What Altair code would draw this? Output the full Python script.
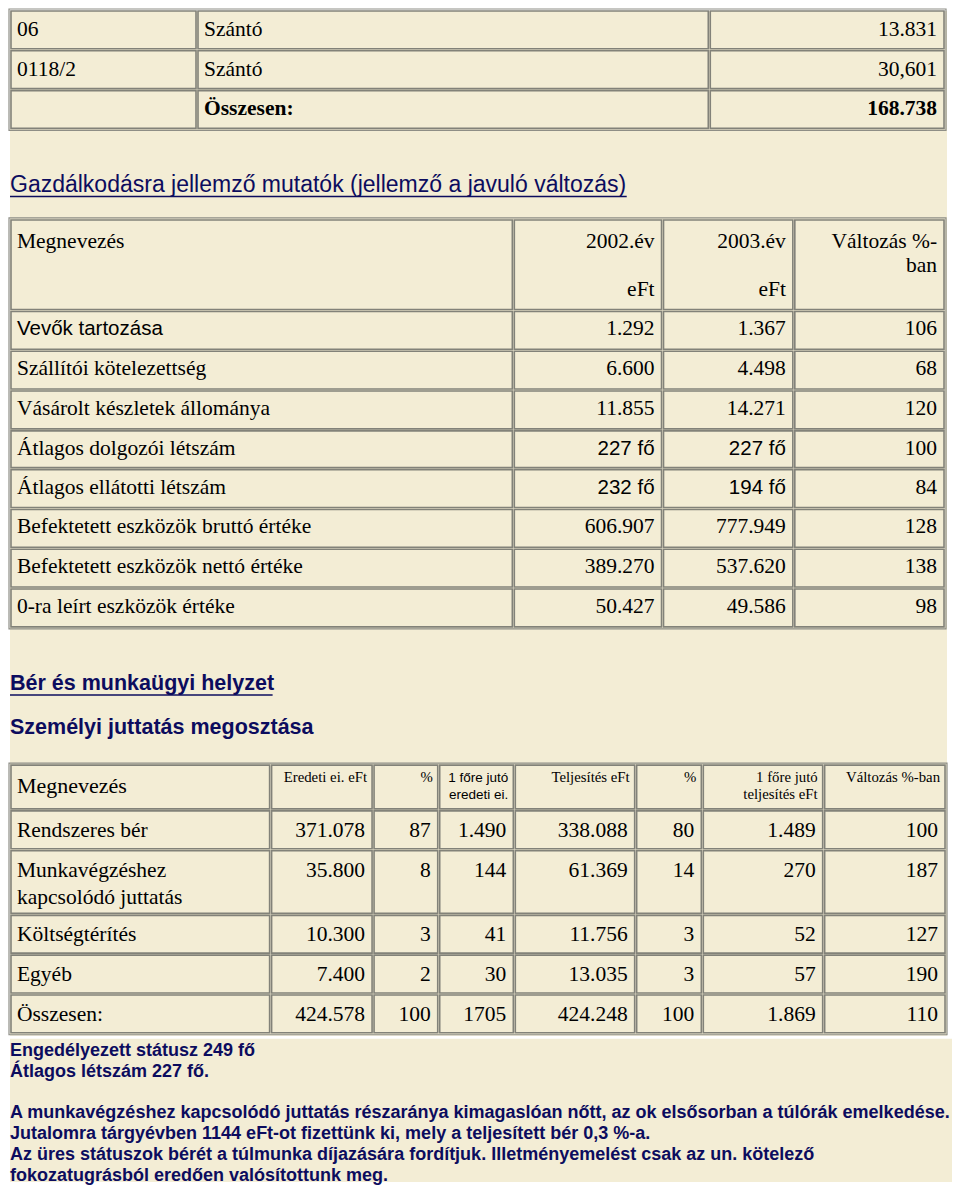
import altair as alt
import pandas as pd

# ---------------- data (text values) ----------------
t1_parcel = ["06", "0118/2", ""]
t1_type = ["Szántó", "Szántó", "Összesen:"]
t1_value = ["13.831", "30,601", "168.738"]

heading1 = "Gazdálkodásra jellemző mutatók (jellemző a javuló változás)"
t2_header_name = "Megnevezés"
t2_header_2002 = ["2002.év", "eFt"]
t2_header_2003 = ["2003.év", "eFt"]
t2_header_change = ["Változás %-", "ban"]
t2_names = ["Vevők tartozása", "Szállítói kötelezettség", "Vásárolt készletek állománya",
            "Átlagos dolgozói létszám", "Átlagos ellátotti létszám",
            "Befektetett eszközök bruttó értéke", "Befektetett eszközök nettó értéke",
            "0-ra leírt eszközök értéke"]
t2_2002 = ["1.292", "6.600", "11.855", "227 fő", "232 fő", "606.907", "389.270", "50.427"]
t2_2003 = ["1.367", "4.498", "14.271", "227 fő", "194 fő", "777.949", "537.620", "49.586"]
t2_change = ["106", "68", "120", "100", "84", "128", "138", "98"]

heading2 = "Bér és munkaügyi helyzet"
heading3 = "Személyi juttatás megosztása"
t3_header = ["Megnevezés", ["Eredeti ei. eFt"], ["%"], ["1 főre jutó", "eredeti ei."],
             ["Teljesítés eFt"], ["%"], ["1 főre jutó", "teljesítés eFt"], ["Változás %-ban"]]
t3_names = [["Rendszeres bér"], ["Munkavégzéshez", "kapcsolódó juttatás"], ["Költségtérítés"],
            ["Egyéb"], ["Összesen:"]]
t3_eredeti = ["371.078", "35.800", "10.300", "7.400", "424.578"]
t3_pct1 = ["87", "8", "3", "2", "100"]
t3_per1 = ["1.490", "144", "41", "30", "1705"]
t3_telj = ["338.088", "61.369", "11.756", "13.035", "424.248"]
t3_pct2 = ["80", "14", "3", "3", "100"]
t3_per2 = ["1.489", "270", "52", "57", "1.869"]
t3_change = ["100", "187", "127", "190", "110"]

notes = ["Engedélyezett státusz 249 fő",
         "Átlagos létszám 227 fő.",
         "",
         "A munkavégzéshez kapcsolódó juttatás részaránya kimagaslóan nőtt, az ok elsősorban a túlórák emelkedése.",
         "Jutalomra tárgyévben 1144 eFt-ot fizettünk ki, mely a teljesített bér 0,3 %-a.",
         "Az üres státuszok bérét a túlmunka díjazására fordítjuk. Illetményemelést csak az un. kötelező",
         "fokozatugrásból eredően valósítottunk meg."]

# ---------------- layout (page pixels) ----------------
T1_X = [8, 196, 711, 948]
T1_Y = [7, 47, 87, 127]
T2_X = [8, 514, 664, 796, 948]
T2_Y = [217, 309, 349, 389, 429, 468, 508, 548, 588, 628]
T3_X = [8, 270, 373, 439, 515, 637, 704, 826, 949]
T3_Y = [765, 811, 851, 916, 956, 996, 1036]

BEIGE = "#f3edd5"
NAVY = "#0c0c5e"
BORDER = "#828279"
SERIF = "Liberation Serif"
SANS = "Liberation Sans"
FS = 21.5

texts = []


def add(x, y, text, font=SERIF, weight="normal", align="left", size=FS, color="#000000"):
    if text:
        texts.append(dict(x=x, y=y, text=text, font=font, weight=weight,
                          align=align, size=size, color=color))


cells, frames = [], []


def table(X, Y):
    for r in range(len(Y) - 1):
        for c in range(len(X) - 1):
            cells.append(dict(x=X[c] + 1, x2=X[c + 1] - 1, y=Y[r] + 1, y2=Y[r + 1] - 1))
    frames.append(dict(x=X[0] - 1, x2=X[-1] + 1, y=Y[0] - 1, y2=Y[-1] + 1))


def lx(X, c):
    return X[c] + 7


def rx(X, c):
    return X[c + 1] - 8


def ly(Y, r, line=0, lh=25, off=20):
    return Y[r] + off + line * lh


# table 1
table(T1_X, T1_Y)
for r in range(3):
    w = "bold" if r == 2 else "normal"
    add(lx(T1_X, 0), ly(T1_Y, r), t1_parcel[r])
    add(lx(T1_X, 1), ly(T1_Y, r), t1_type[r], weight=w)
    add(rx(T1_X, 2), ly(T1_Y, r), t1_value[r], weight=w, align="right")

# heading 1
add(8, 183, heading1, font=SANS, size=23, color=NAVY)

# table 2
table(T2_X, T2_Y)
add(lx(T2_X, 0), T2_Y[0] + 23, t2_header_name)
add(rx(T2_X, 1), T2_Y[0] + 23, t2_header_2002[0], align="right")
add(rx(T2_X, 1), T2_Y[0] + 71, t2_header_2002[1], align="right")
add(rx(T2_X, 2), T2_Y[0] + 23, t2_header_2003[0], align="right")
add(rx(T2_X, 2), T2_Y[0] + 71, t2_header_2003[1], align="right")
add(rx(T2_X, 3), T2_Y[0] + 23, t2_header_change[0], align="right")
add(rx(T2_X, 3), T2_Y[0] + 47, t2_header_change[1], align="right")
for i in range(len(t2_names)):
    r = i + 1
    y = ly(T2_Y, r) - 1
    add(lx(T2_X, 0), y, t2_names[i], font=SANS if i == 0 else SERIF, size=20.5 if i == 0 else FS)
    sans = "fő" in t2_2002[i]
    add(rx(T2_X, 1), y, t2_2002[i], align="right", font=SANS if sans else SERIF, size=20.5 if sans else FS)
    sans = "fő" in t2_2003[i]
    add(rx(T2_X, 2), y, t2_2003[i], align="right", font=SANS if sans else SERIF, size=20.5 if sans else FS)
    add(rx(T2_X, 3), y, t2_change[i], align="right")

# headings 2, 3
add(8, 684, heading2, font=SANS, weight="bold", size=21.5, color=NAVY)
add(8, 729, heading3, font=SANS, weight="bold", size=21.5, color=NAVY)

# table 3
table(T3_X, T3_Y)
add(lx(T3_X, 0), T3_Y[0] + 22, t3_header[0], size=22)
for c in range(1, 8):
    lines = t3_header[c]
    sans = c == 3
    for k, line in enumerate(lines):
        add(rx(T3_X, c) + 2, T3_Y[0] + 14 + k * 17, line, align="right",
            font=SANS if sans else SERIF, size=13.5 if sans else 14.8)
cols3 = [t3_eredeti, t3_pct1, t3_per1, t3_telj, t3_pct2, t3_per2, t3_change]
for i in range(len(t3_names)):
    r = i + 1
    for k, line in enumerate(t3_names[i]):
        add(lx(T3_X, 0), ly(T3_Y, r, k, lh=28, off=21), line)
    for c, col in enumerate(cols3, start=1):
        add(rx(T3_X, c), ly(T3_Y, r, off=21), col[i], align="right")

# notes
for k, line in enumerate(notes):
    add(8, 1053 + 21 * k, line, font=SANS, weight="bold", size=18, color=NAVY)

# backgrounds and underlines
bg = pd.DataFrame([dict(x=8, x2=950, y=8, y2=1038), dict(x=8, x2=955, y=1041, y2=1185)])
underlines = pd.DataFrame([dict(x=8, x2=628, y=194.5), dict(x=8, x2=272, y=695.5)])

XS = alt.Scale(domain=[8, 952], nice=False, zero=False)
YS = alt.Scale(domain=[8, 1185], nice=False, zero=False, reverse=True)

bg_layer = alt.Chart(bg).mark_rect(color=BEIGE).encode(
    x=alt.X("x:Q", scale=XS, axis=None), x2="x2:Q",
    y=alt.Y("y:Q", scale=YS, axis=None), y2="y2:Q")

cell_layer = alt.Chart(pd.DataFrame(cells)).mark_rect(
    fill=BEIGE, stroke=BORDER, strokeWidth=1.6).encode(
    x=alt.X("x:Q", scale=XS, axis=None), x2="x2:Q",
    y=alt.Y("y:Q", scale=YS, axis=None), y2="y2:Q")

frame_layer = alt.Chart(pd.DataFrame(frames)).mark_rect(
    fill=None, stroke="#8e8e86", strokeWidth=1.2).encode(
    x=alt.X("x:Q", scale=XS, axis=None), x2="x2:Q",
    y=alt.Y("y:Q", scale=YS, axis=None), y2="y2:Q")

ul_layer = alt.Chart(underlines).mark_rule(color=NAVY, strokeWidth=1.6).encode(
    x=alt.X("x:Q", scale=XS, axis=None), x2="x2:Q",
    y=alt.Y("y:Q", scale=YS, axis=None))

tdf = pd.DataFrame(texts)
text_layers = []
for (font, weight, align), g in tdf.groupby(["font", "weight", "align"]):
    text_layers.append(
        alt.Chart(g).mark_text(font=font, fontWeight=weight, align=align, baseline="middle").encode(
            x=alt.X("x:Q", scale=XS, axis=None),
            y=alt.Y("y:Q", scale=YS, axis=None),
            text="text:N",
            size=alt.Size("size:Q", scale=None, legend=None),
            color=alt.Color("color:N", scale=None, legend=None),
        )
    )

chart = alt.layer(bg_layer, cell_layer, frame_layer, ul_layer, *text_layers).properties(
    width=944, height=1177, padding=0, background="white",
    autosize=alt.AutoSizeParams(type="fit", contains="padding"),
).configure_view(stroke=None)

chart.save("out.html", embed_options={"renderer": "svg", "actions": False})
